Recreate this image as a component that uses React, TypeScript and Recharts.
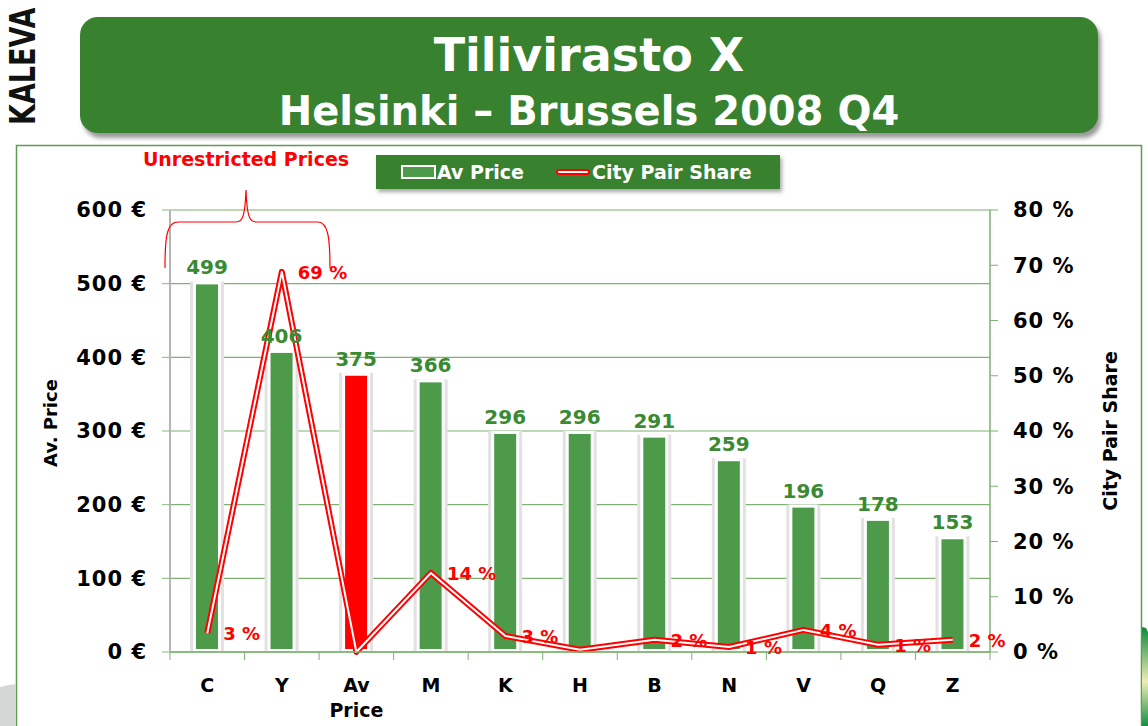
import React from 'react'
import { ComposedChart, Bar, Line, XAxis, YAxis, CartesianGrid, LabelList, Cell } from 'recharts'

const FONT = '"DejaVu Sans", Verdana, sans-serif'

const categories = ['C', 'Y', 'Av Price', 'M', 'K', 'H', 'B', 'N', 'V', 'Q', 'Z']
const avPrice = [499, 406, 375, 366, 296, 296, 291, 259, 196, 178, 153]
const cityPairShare = [3.4, 68.8, 0, 14.3, 2.9, 0.4, 2.2, 0.9, 4.0, 1.3, 2.2]
const priceTicks = [0, 100, 200, 300, 400, 500, 600]
const shareTicks = [0, 10, 20, 30, 40, 50, 60, 70, 80]

const data = categories.map((name, i) => ({ name, price: avPrice[i], share: cityPairShare[i] }))

const BAR_GREEN = '#4e9a4b'
const DARK_GREEN = '#38812f'
const GRID_GREEN = '#7db270'

function FramedBar(props: any) {
  const { x, y, width, height, fill } = props
  if (!height || height <= 0) return null
  return (
    <g>
      <rect x={x - 6} y={y - 3} width={width + 12} height={height + 2} fill="#e2e2e2" />
      <rect x={x - 3} y={y - 3} width={width + 6} height={height + 2} fill="#ffffff" />
      <rect x={x} y={y} width={width} height={height - 3} fill={fill} />
    </g>
  )
}

function CategoryTick({ x, y, payload, index }: any) {
  const half = payload?.offset || 37.27
  const lines = String(payload.value).split(' ')
  return (
    <g>
      <line x1={x - half} y1={y} x2={x - half} y2={y + 8} stroke={GRID_GREEN} />
      {index === categories.length - 1 && (
        <line x1={x + half} y1={y} x2={x + half} y2={y + 8} stroke={GRID_GREEN} />
      )}
      {lines.map((t, i) => (
        <text
          key={t}
          x={x}
          y={y + 40 + i * 25}
          textAnchor="middle"
          fill="#000"
          fontSize={19}
          fontWeight="bold"
          fontFamily={FONT}
        >
          {t}
        </text>
      ))}
    </g>
  )
}

function ShareLabel({ x, y, value }: any) {
  if (value == null || value < 0.5) return null
  return (
    <text x={x + 16} y={y + 7} fill="#ff0000" fontSize={18} fontWeight="bold" fontFamily={FONT}>
      {Math.round(value)} %
    </text>
  )
}

const tickStyle = { fill: '#000', fontSize: 21, fontWeight: 'bold', fontFamily: FONT, letterSpacing: 1 }

export default function App() {
  return (
    <div
      style={{
        position: 'fixed',
        left: 0,
        top: 0,
        width: 1148,
        height: 726,
        background: '#fff',
        overflow: 'hidden',
        fontFamily: FONT,
      }}
    >
      {/* frame and side decorations */}
      <svg width={1148} height={726} style={{ position: 'absolute', left: 0, top: 0 }}>
        <polyline points="16.5,726 16.5,145.5 1141.5,145.5 1141.5,726" fill="none" stroke="#5e9c52" strokeWidth={1.5} />
        <defs>
          <linearGradient id="deco" x1="0" y1="0" x2="0" y2="1">
            <stop offset="0" stopColor="#0a8a3a" />
            <stop offset="0.55" stopColor="#efedb4" />
            <stop offset="1" stopColor="#169044" />
          </linearGradient>
        </defs>
        <path d="M1142,627 L1146,628 L1148,632 L1148,726 L1142,726 Z" fill="url(#deco)" />
        <path d="M0,687 Q8,685 16,684 L16,726 L0,726 Z" fill="#d5d6d6" />
      </svg>

      <div style={{ position: 'absolute', left: 0, top: 0 }}>
        <ComposedChart
          width={1148}
          height={726}
          data={data}
          margin={{ top: 210, right: 58, bottom: 34, left: 20 }}
          barCategoryGap={0}
        >
          <CartesianGrid yAxisId="left" vertical={false} stroke={GRID_GREEN} strokeWidth={1.2} />
          <XAxis
            dataKey="name"
            height={40}
            interval={0}
            axisLine={{ stroke: GRID_GREEN, strokeWidth: 1.5 }}
            tickLine={false}
            tickSize={0}
            tickMargin={0}
            tick={<CategoryTick />}
          />
          <YAxis
            yAxisId="left"
            width={150}
            domain={[0, 600]}
            ticks={priceTicks}
            interval={0}
            tickFormatter={(v: number) => `${v} €`}
            axisLine={{ stroke: '#b5b5b5', strokeWidth: 2 }}
            tickLine={{ stroke: '#8cb980' }}
            tickSize={8}
            tickMargin={15}
            tick={tickStyle}
          />
          <YAxis
            yAxisId="right"
            orientation="right"
            width={100}
            domain={[0, 80]}
            ticks={shareTicks}
            interval={0}
            tickFormatter={(v: number) => `${v} %`}
            axisLine={{ stroke: GRID_GREEN, strokeWidth: 1.5 }}
            tickLine={{ stroke: GRID_GREEN }}
            tickSize={8}
            tickMargin={15}
            tick={tickStyle}
          />
          <Bar
            yAxisId="left"
            dataKey="price"
            barSize={22}
            fill={BAR_GREEN}
            shape={<FramedBar />}
            isAnimationActive={false}
          >
            {data.map((d) => (
              <Cell key={d.name} fill={d.name === 'Av Price' ? '#ff0000' : BAR_GREEN} />
            ))}
            <LabelList
              dataKey="price"
              position="top"
              offset={10}
              fill="#3a8a32"
              fontSize={20}
              fontWeight="bold"
              fontFamily={FONT}
            />
          </Bar>
          <Line
            yAxisId="right"
            type="linear"
            dataKey="share"
            stroke="#ff0000"
            strokeWidth={6}
            strokeLinejoin="round"
            dot={false}
            activeDot={false}
            isAnimationActive={false}
          >
            <LabelList dataKey="share" content={<ShareLabel />} />
          </Line>
          <Line
            yAxisId="right"
            type="linear"
            dataKey="share"
            stroke="#ffffff"
            strokeWidth={2}
            strokeLinejoin="round"
            dot={false}
            activeDot={false}
            legendType="none"
            isAnimationActive={false}
          />
        </ComposedChart>
      </div>

      {/* overlay texts and annotation */}
      <svg width={1148} height={726} style={{ position: 'absolute', left: 0, top: 0, pointerEvents: 'none' }}>
        <text
          transform="translate(35,125) rotate(-90) scale(0.75,1)"
          fontSize={36}
          fontWeight="bold"
          fontFamily={FONT}
          fill="#111"
        >
          KALEVA
        </text>
        <text
          transform="translate(57,423) rotate(-90)"
          textAnchor="middle"
          fontSize={18}
          fontWeight="bold"
          fontFamily={FONT}
          fill="#000"
        >
          Av. Price
        </text>
        <text
          transform="translate(1117,431) rotate(-90)"
          textAnchor="middle"
          fontSize={19}
          fontWeight="bold"
          fontFamily={FONT}
          fill="#000"
        >
          City Pair Share
        </text>
        <text x={246} y={166} textAnchor="middle" fontSize={19} fontWeight="bold" fontFamily={FONT} fill="#ff0000">
          Unrestricted Prices
        </text>
        <path
          d="M165,268 C165,240 166,222 178,222 L236,222 C243,222 245,215 246,190 C247,215 249,222 256,222 L318,222 C328,222 330,238 330,268"
          fill="none"
          stroke="#ff0000"
          strokeWidth={1.2}
        />
      </svg>

      {/* title */}
      <div
        style={{
          position: 'absolute',
          left: 80,
          top: 17,
          width: 1018,
          height: 116,
          borderRadius: 18,
          background: DARK_GREEN,
          boxShadow: '3px 5px 4px #9a9a9a',
          color: '#fff',
          fontWeight: 'bold',
          textAlign: 'center',
        }}
      >
        <div style={{ position: 'absolute', left: 0, right: 0, top: 10, height: 56, lineHeight: '56px', fontSize: 46 }}>
          Tilivirasto X
        </div>
        <div style={{ position: 'absolute', left: 0, right: 0, top: 72, height: 44, lineHeight: '44px', fontSize: 40 }}>
          Helsinki – Brussels 2008 Q4
        </div>
      </div>

      {/* legend */}
      <div
        style={{
          position: 'absolute',
          left: 376,
          top: 155,
          width: 404,
          height: 34,
          background: DARK_GREEN,
          boxShadow: '2px 3px 4px rgba(0,0,0,0.35)',
          color: '#fff',
          fontWeight: 'bold',
          fontSize: 19,
        }}
      >
        <div
          style={{
            position: 'absolute',
            left: 25,
            top: 10,
            width: 31,
            height: 10,
            border: '2px solid #fff',
            background: BAR_GREEN,
          }}
        />
        <div style={{ position: 'absolute', left: 61, top: 0, lineHeight: '34px' }}>Av Price</div>
        <div
          style={{
            position: 'absolute',
            left: 180,
            top: 14,
            width: 30,
            height: 2,
            border: '2px solid #ff0000',
            borderRadius: 3,
            background: '#fff',
          }}
        />
        <div style={{ position: 'absolute', left: 216, top: 0, lineHeight: '34px' }}>City Pair Share</div>
      </div>
    </div>
  )
}
